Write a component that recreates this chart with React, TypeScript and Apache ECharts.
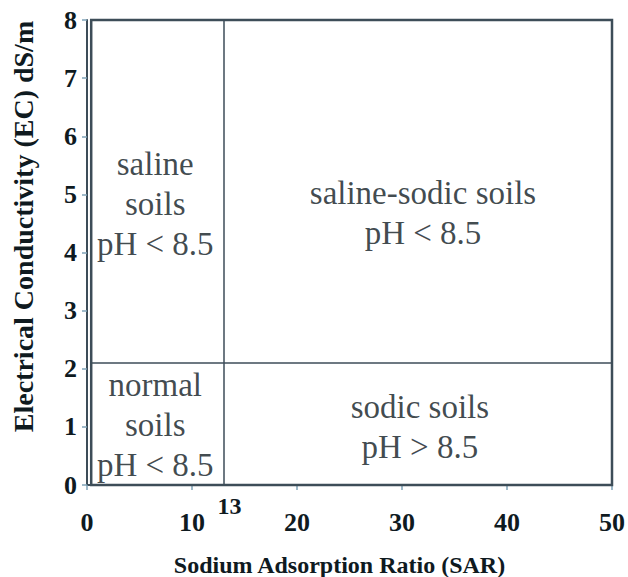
import React, { useEffect, useRef } from "react";
import * as echarts from "echarts";

const xTicks = [0, 10, 20, 30, 40, 50];
const yTicks = [0, 1, 2, 3, 4, 5, 6, 7, 8];
const sarThreshold = 13;
const ecThreshold = 2.1;
const boxLeft = 0.4;
const regionLabels = [
  "saline\nsoils\npH < 8.5",
  "saline-sodic soils\npH < 8.5",
  "normal\nsoils\npH < 8.5",
  "sodic soils\npH > 8.5",
];
const regionX = [6.5, 32, 6.5, 31.7];
const regionY = [4.84, 4.68, 1.03, 1.0];

const LINE = "#3d4d58";
const TEXT = "#0f1a1f";
const FONT = "'Liberation Serif', 'Times New Roman', serif";

export default function App() {
  const ref = useRef<HTMLDivElement>(null);
  useEffect(() => {
    document.body.style.margin = "0";
    document.body.style.overflow = "hidden";
    if (!ref.current) return;
    const chart = echarts.init(ref.current, undefined, { renderer: "svg" });
    chart.setOption({
      animation: false,
      backgroundColor: "#ffffff",
      grid: { left: 87, right: 16, top: 20, bottom: 92, containLabel: false, outerBoundsMode: "none" },
      xAxis: {
        type: "value",
        min: xTicks[0],
        max: xTicks[xTicks.length - 1],
        interval: 10,
        name: "Sodium Adsorption Ratio (SAR)",
        nameLocation: "middle",
        nameGap: 68,
        nameTextStyle: { fontFamily: FONT, fontWeight: "bold", fontSize: 24, color: TEXT, padding: [0, 20, 0, 0] },
        axisLine: { show: true, lineStyle: { color: LINE, width: 2 } },
        axisTick: { show: true, length: 5, lineStyle: { color: "#7fa3b8", width: 1.5 } },
        axisLabel: { fontFamily: FONT, fontWeight: "bold", fontSize: 26, color: TEXT, margin: 24 },
        splitLine: { show: false },
      },
      yAxis: {
        type: "value",
        min: yTicks[0],
        max: yTicks[yTicks.length - 1],
        interval: 1,
        name: "Electrical Conductivity (EC) dS/m",
        nameLocation: "middle",
        nameGap: 50,
        nameTextStyle: { fontFamily: FONT, fontWeight: "bold", fontSize: 28, color: TEXT, padding: [0, 0, 0, 52] },
        axisLine: { show: true, lineStyle: { color: LINE, width: 2 } },
        axisTick: { show: true, length: 5, lineStyle: { color: "#7fa3b8", width: 1.5 } },
        axisLabel: { fontFamily: FONT, fontWeight: "bold", fontSize: 26, color: TEXT, margin: 10 },
        splitLine: { show: false },
      },
      series: [
        {
          type: "scatter",
          data: regionLabels.map((t, i) => ({ value: [regionX[i], regionY[i]], name: t })),
          symbolSize: 0,
          silent: true,
          label: {
            show: true,
            position: "inside",
            formatter: (p: any) => p.name,
            fontFamily: FONT,
            fontSize: 33,
            lineHeight: 40,
            color: TEXT,
            align: "center",
            verticalAlign: "middle",
          },
          markArea: {
            silent: true,
            itemStyle: { color: "rgba(0,0,0,0)", borderColor: LINE, borderWidth: 2.5 },
            data: [[{ coord: [boxLeft, yTicks[0]] }, { coord: [xTicks[xTicks.length - 1], yTicks[yTicks.length - 1]] }]],
          },
          markLine: {
            silent: true,
            symbol: "none",
            lineStyle: { color: LINE, width: 1.5, type: "solid" },
            data: [
              [
                {
                  coord: [sarThreshold, yTicks[0]],
                  label: {
                    show: true,
                    position: "start",
                    formatter: String(sarThreshold),
                    fontFamily: FONT,
                    fontWeight: "bold",
                    fontSize: 24,
                    color: TEXT,
                    distance: 9,
                    offset: [6, 0],
                  },
                },
                { coord: [sarThreshold, yTicks[yTicks.length - 1]] },
              ],
              [
                { coord: [boxLeft, ecThreshold], label: { show: false } },
                { coord: [xTicks[xTicks.length - 1], ecThreshold] },
              ],
            ],
          },
        },
      ],
    });
    return () => chart.dispose();
  }, []);
  return <div ref={ref} style={{ width: 628, height: 577 }} />;
}
